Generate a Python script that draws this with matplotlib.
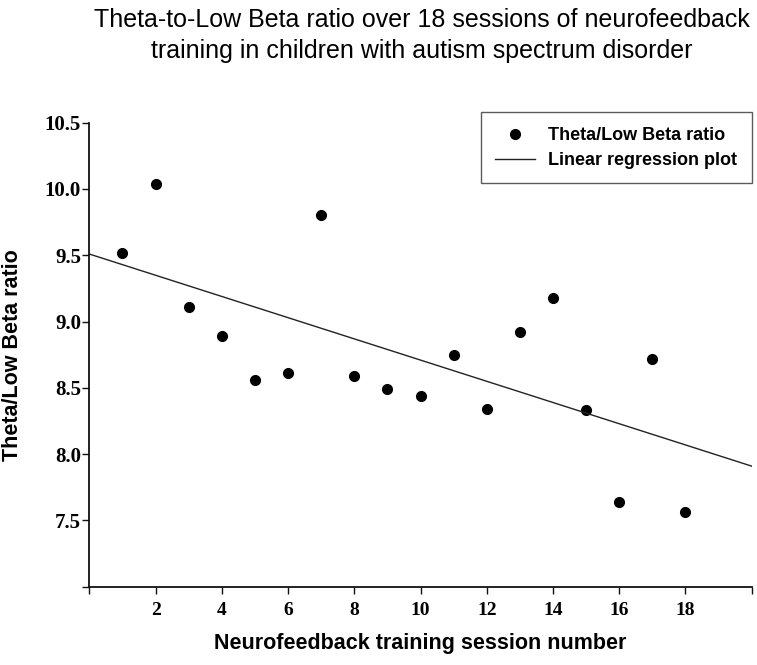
import numpy as np
import matplotlib
matplotlib.use("Agg")
import matplotlib.pyplot as plt

# valores
sessoes = np.arange(1, 19)
razao_theta_beta = [9.52, 10.04, 9.11, 8.89, 8.56, 8.61, 9.80, 8.59, 8.49,
                    8.44, 8.75, 8.34, 8.92, 9.18, 8.33, 7.64, 8.72, 7.56]

x_ticks = list(range(0, 21, 2))
x_tick_labels = [""] + [str(v) for v in range(2, 19, 2)] + [""]
y_ticks = [7.0, 7.5, 8.0, 8.5, 9.0, 9.5, 10.0, 10.5]
y_tick_labels = ["", "7.5", "8.0", "8.5", "9.0", "9.5", "10.0", "10.5"]

titulo = ("Theta-to-Low Beta ratio over 18 sessions of neurofeedback\n"
          "training in children with autism spectrum disorder")

fig = plt.figure(figsize=(7.57, 6.65), dpi=100)
ax = fig.add_axes([0.118, 0.1177, 0.875, 0.6978])

ax.plot(sessoes, razao_theta_beta, linestyle="none", marker="o",
        markersize=7, color="black", label="Theta/Low Beta ratio")

# reta de regressão linear sobre todo o eixo x
coef = np.polyfit(sessoes, razao_theta_beta, 1)
xr = np.array([0, 20])
ax.plot(xr, np.polyval(coef, xr), color="#222222", linewidth=1.0,
        label="Linear regression plot")

ax.set_xlim(0, 20)
ax.set_ylim(7.0, 10.5)
ax.set_xticks(x_ticks)
ax.set_xticklabels(x_tick_labels)
ax.set_yticks(y_ticks)
ax.set_yticklabels(y_tick_labels)

for lado in ["top", "right"]:
    ax.spines[lado].set_visible(False)
for lado in ["left", "bottom"]:
    ax.spines[lado].set_linewidth(1.3)
    ax.spines[lado].set_color("#111111")

ax.tick_params(axis="both", direction="out", length=5, width=1.0, color="#111111")
ax.tick_params(axis="x", pad=6)
ax.tick_params(axis="y", pad=1)
for lbl in ax.get_xticklabels():
    lbl.set_fontfamily("Liberation Serif")
    lbl.set_fontweight("bold")
    lbl.set_fontsize(14)
for lbl in ax.get_yticklabels():
    lbl.set_fontfamily("Liberation Serif")
    lbl.set_fontweight("bold")
    lbl.set_fontsize(15)

ax.set_xlabel("Neurofeedback training session number", fontfamily="Liberation Sans",
              fontweight="bold", fontsize=15.5, labelpad=10)
ax.set_ylabel("Theta/Low Beta ratio", fontfamily="Liberation Sans",
              fontweight="bold", fontsize=15.5)
ax.yaxis.set_label_coords(-0.100, 0.5)

fig.text(0.5575, 0.947, titulo, ha="center", va="center",
         fontfamily="Liberation Sans", fontsize=18, linespacing=1.35)

leg = ax.legend(loc="upper right", bbox_to_anchor=(1.0, 1.022), borderaxespad=0,
                frameon=True, fancybox=False, edgecolor="#333333", borderpad=0.8,
                handlelength=2.2, handletextpad=0.74, labelspacing=0.45,
                prop={"family": "Liberation Sans", "weight": "bold", "size": 13})
leg.get_frame().set_linewidth(1.0)

fig.savefig("out.png", dpi=100)
